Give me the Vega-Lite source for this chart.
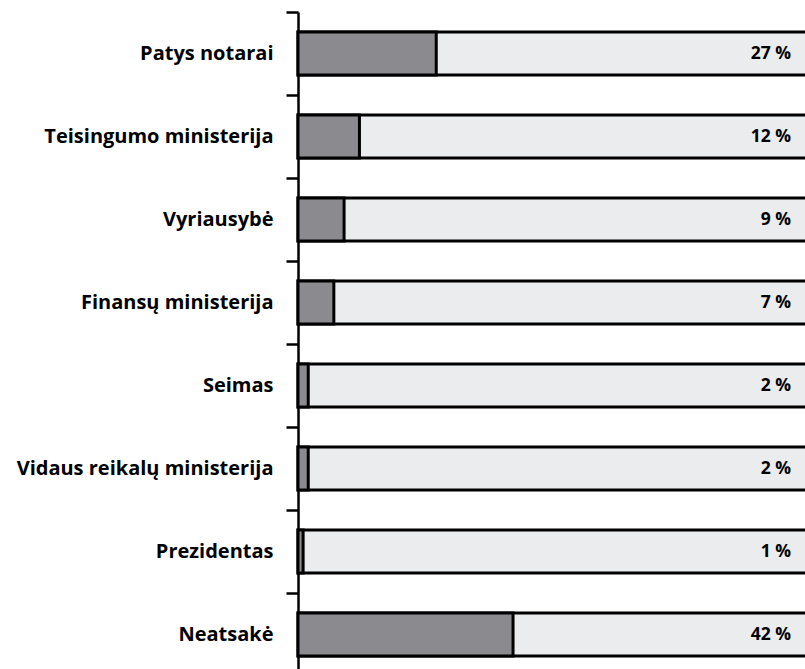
{
  "$schema": "https://vega.github.io/schema/vega-lite/v6.json",
  "autosize": {"type": "none"},
  "width": 507,
  "height": 657,
  "padding": {"left": 298, "top": 12, "right": 0, "bottom": 0},
  "background": "white",
  "config": {"view": {"stroke": null}},
  "data": {
    "values": [
      {"category": "Patys notarai", "value": 27, "total": 100, "label": "27 %"},
      {"category": "Teisingumo ministerija", "value": 12, "total": 100, "label": "12 %"},
      {"category": "Vyriausybė", "value": 9, "total": 100, "label": "9 %"},
      {"category": "Finansų ministerija", "value": 7, "total": 100, "label": "7 %"},
      {"category": "Seimas", "value": 2, "total": 100, "label": "2 %"},
      {"category": "Vidaus reikalų ministerija", "value": 2, "total": 100, "label": "2 %"},
      {"category": "Prezidentas", "value": 1, "total": 100, "label": "1 %"},
      {"category": "Neatsakė", "value": 42, "total": 100, "label": "42 %"}
    ]
  },
  "encoding": {
    "y": {
      "field": "category",
      "type": "nominal",
      "sort": null,
      "title": null,
      "scale": {"range": [0, 664], "paddingInner": 0, "paddingOuter": 0},
      "axis": {
        "tickBand": "extent",
        "domainColor": "black",
        "domainWidth": 2.5,
        "tickColor": "black",
        "tickWidth": 2.5,
        "tickSize": 12,
        "labelPadding": 13,
        "labelFont": "Open Sans",
        "labelFontWeight": "bold",
        "labelFontSize": 20,
        "labelColor": "black",
        "labelLimit": 400
      }
    }
  },
  "layer": [
    {
      "mark": {"type": "bar", "size": 43, "fill": "#ebecee", "stroke": "black", "strokeWidth": 3},
      "encoding": {
        "x": {"field": "total", "type": "quantitative", "scale": {"domain": [0, 100], "range": [0, 512]}, "axis": null}
      }
    },
    {
      "mark": {"type": "bar", "size": 43, "fill": "#8b8a8f", "stroke": "black", "strokeWidth": 3},
      "encoding": {
        "x": {"field": "value", "type": "quantitative"}
      }
    },
    {
      "mark": {"type": "text", "align": "right", "baseline": "middle", "font": "Open Sans", "fontWeight": "bold", "fontSize": 17.5, "color": "black"},
      "encoding": {
        "x": {"datum": 96.3, "type": "quantitative"},
        "text": {"field": "label"}
      }
    }
  ]
}
